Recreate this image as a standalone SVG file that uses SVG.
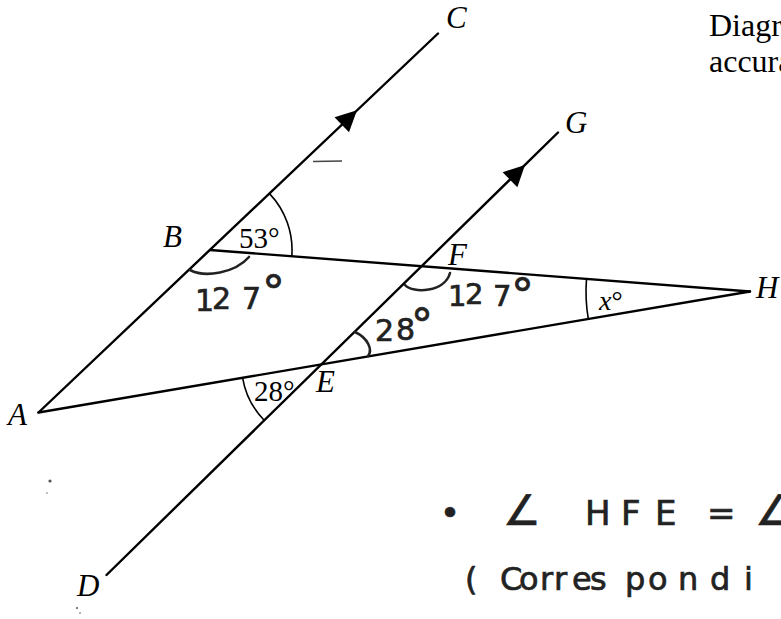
<svg xmlns="http://www.w3.org/2000/svg" xmlns:xlink="http://www.w3.org/1999/xlink" width="781" height="619" viewBox="0 0 781 619">
<style>
.ln{stroke:#000;stroke-width:2.4;fill:none;stroke-linecap:round}
.arc{stroke:#000;stroke-width:1.6;fill:none}
.hw{stroke:#222;stroke-width:2.6;fill:none;stroke-linecap:round}
.lbl{font-family:"Liberation Serif","Times New Roman",serif;font-style:italic;font-size:31px;fill:#000}
.num{font-family:"Liberation Serif","Times New Roman",serif;font-size:29px;fill:#000}
.note{font-family:"Liberation Serif","Times New Roman",serif;font-size:32px;fill:#000}
.hand{font-family:"DejaVu Sans","Noto Sans",sans-serif;fill:#222;stroke:#222;stroke-width:0.7}
</style>
<defs>
<path id="arr" d="M0,0 L-21,-10.5 L-21,10.5 Z" fill="#000"/>
</defs>
<rect width="781" height="619" fill="#fff"/>
<g id="connectors">
<line class="ln" x1="38.5" y1="412.5" x2="438" y2="33.5"/>
<line class="ln" x1="106.5" y1="575" x2="558" y2="132.5"/>
<line class="ln" x1="210" y1="250" x2="750" y2="291.5"/>
<line class="ln" x1="38.5" y1="412.5" x2="750" y2="291.5"/>
<use xlink:href="#arr" transform="translate(357,110.3) rotate(-43.5)"/>
<use xlink:href="#arr" transform="translate(525,165) rotate(-44.4)"/>
<line x1="313" y1="161.5" x2="342" y2="161" stroke="#444" stroke-width="1.4"/>
</g>
<g id="angle-arcs">
<path class="arc" d="M269.5,193.6 A82,82 0 0 1 291.8,256.3"/>
<path class="arc" d="M242.6,377.8 A80,80 0 0 0 264.4,420.5"/>
<path class="arc" d="M586.5,278.9 A164,164 0 0 0 588.3,319"/>
</g>
<g id="hand-arcs">
<path class="hw" d="M190,270 C205,278 235,273 249,257"/>
<path class="hw" d="M405,285 C413,294 445,292 450,273"/>
<path class="hw" d="M355,332 C368,338 373,350 368,356"/>
</g>
<g id="node-A"><text class="lbl" x="8" y="425">A</text></g>
<g id="node-B"><text class="lbl" x="163" y="247">B</text></g>
<g id="node-C"><text class="lbl" x="446" y="28">C</text></g>
<g id="node-D"><text class="lbl" x="77" y="596">D</text></g>
<g id="node-E"><text class="lbl" x="316" y="392">E</text></g>
<g id="node-F"><text class="lbl" x="448" y="265">F</text></g>
<g id="node-G"><text class="lbl" x="565" y="133">G</text></g>
<g id="node-H"><text class="lbl" x="756" y="298">H</text></g>
<g id="angle-labels">
<text class="num" x="239" y="248">53°</text>
<text class="num" x="254" y="401">28°</text>
<text x="599" y="310" style="font-family:'Liberation Serif',serif;font-size:28px"><tspan font-style="italic">x</tspan>°</text>
</g>
<g id="handwritten-angles">
<text class="hand" font-size="30" x="195 212 242" y="311 309 309">127<tspan font-size="46" x="262" y="308">°</tspan></text>
<text class="hand" font-size="29" x="448 465 493" y="306 304 306">127<tspan font-size="46" x="511" y="311">°</tspan></text>
<text class="hand" font-size="30" x="375 396" y="341 340">28<tspan font-size="44" x="411" y="340">°</tspan></text>
</g>
<g id="note-text">
<text class="note" x="709" y="36">Diagr</text>
<text class="note" x="709" y="72">accura</text>
</g>
<g id="handwritten-note">
<text class="hand" font-size="34" x="440 470 503 560 585 621 655 695 707 740 755" y="525">• <tspan font-size="42">∠</tspan> HFE = <tspan font-size="42">∠</tspan></text>
<text class="hand" font-size="32" x="465 500 519 540 554 572 590 625 648 678 710 744" y="590">(Correspondi</text>
</g>
<g id="specks" fill="#555">
<circle cx="50" cy="481" r="1.6"/>
<circle cx="47" cy="493" r="0.7"/>
<circle cx="77" cy="608" r="1"/>
<circle cx="80" cy="613" r="0.8"/>
</g>
</svg>
